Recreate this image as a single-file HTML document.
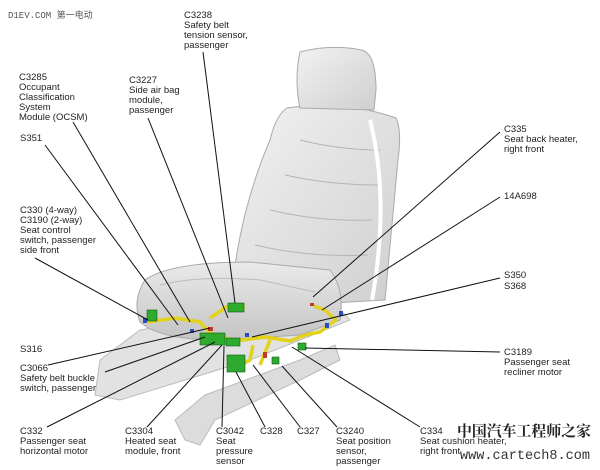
<!DOCTYPE html>
<html><head><meta charset="utf-8"><style>
html,body{margin:0;padding:0;background:#fff;width:600px;height:470px;overflow:hidden}
svg{display:block}
text{font-family:"Liberation Sans",Arial,sans-serif;font-size:9.5px;fill:#222}
</style></head><body>
<svg width="600" height="470" viewBox="0 0 600 470" xmlns="http://www.w3.org/2000/svg">
<defs>
<linearGradient id="g1" x1="0" y1="0" x2="1" y2="1"><stop offset="0" stop-color="#f2f2f2"/><stop offset="1" stop-color="#cfcfcf"/></linearGradient>
<linearGradient id="g2" x1="0" y1="0" x2="0" y2="1"><stop offset="0" stop-color="#eaeaea"/><stop offset="1" stop-color="#c4c4c4"/></linearGradient>
</defs>
<path d="M175,420 L205,395 L300,360 L335,345 L340,360 L300,380 L215,420 L200,445 L185,440 Z" fill="#dcdcdc" stroke="#bbb"/>
<path d="M100,360 L140,330 L330,300 L350,320 L250,360 L120,400 L95,395 Z" fill="#e2e2e2" stroke="#bbb"/>
<path d="M287,108 Q345,100 396,118 Q402,130 398,160 L385,300 L300,305 L232,290 Q240,210 270,140 Q276,115 287,108 Z" fill="url(#g1)" stroke="#aaa"/>
<path d="M300,140 Q340,150 380,150 M285,175 Q330,185 378,185 M270,210 Q320,222 372,220 M255,245 Q310,258 368,255" fill="none" stroke="#b5b5b5"/>
<path d="M370,120 Q390,200 372,300" fill="none" stroke="#fff" stroke-width="4"/>
<path d="M300,52 Q330,44 362,50 Q376,54 376,90 L374,110 L300,108 Q294,80 300,52 Z" fill="url(#g1)" stroke="#aaa"/>
<path d="M145,280 Q170,262 250,262 L330,270 Q345,290 340,320 L300,335 L220,340 Q160,340 140,322 Q132,300 145,280 Z" fill="url(#g2)" stroke="#aaa"/>
<path d="M160,285 Q200,275 260,280 L315,292" fill="none" stroke="#bbb"/>
<path d="M148,322 L175,318 L200,322 L210,333 L235,341 L265,337 L290,341 L305,335 L320,332 L336,320 L325,310 L314,306 M210,318 L228,306 L245,307 M253,345 L250,360 L235,368 M270,340 L260,365" fill="none" stroke="#e3d21c" stroke-width="3.5" stroke-linejoin="round"/>
<g fill="#2eaa2e" stroke="#145c14" stroke-width="0.6">
<rect x="147" y="310" width="10" height="11"/><rect x="200" y="333" width="25" height="12"/><rect x="226" y="338" width="14" height="8"/>
<rect x="227" y="355" width="18" height="17"/><rect x="272" y="357" width="7" height="7"/><rect x="298" y="343" width="8" height="7"/>
<rect x="228" y="303" width="16" height="9"/>
</g>
<g fill="#2a4ec0"><rect x="143" y="318" width="4" height="5"/><rect x="190" y="329" width="4" height="4"/><rect x="325" y="323" width="4" height="5"/><rect x="339" y="311" width="4" height="5"/><rect x="245" y="333" width="4" height="4"/></g>
<g fill="#c0392b"><rect x="208" y="327" width="5" height="4"/><rect x="263" y="352" width="4" height="6"/><rect x="310" y="303" width="4" height="3"/></g>
<g stroke="#111" stroke-width="1" fill="none">
<line x1="203" y1="52" x2="235" y2="303"/>
<line x1="73" y1="122" x2="190" y2="322"/>
<line x1="148" y1="118" x2="228" y2="318"/>
<line x1="45" y1="145" x2="178" y2="325"/>
<line x1="35" y1="258" x2="148" y2="320"/>
<line x1="48" y1="365" x2="210" y2="328"/>
<line x1="105" y1="372" x2="205" y2="337"/>
<line x1="47" y1="427" x2="215" y2="342"/>
<line x1="147" y1="427" x2="222" y2="345"/>
<line x1="222" y1="427" x2="224" y2="346"/>
<line x1="265" y1="427" x2="236" y2="372"/>
<line x1="300" y1="427" x2="253" y2="365"/>
<line x1="337" y1="427" x2="282" y2="366"/>
<line x1="420" y1="427" x2="292" y2="347"/>
<line x1="500" y1="352" x2="305" y2="348"/>
<line x1="500" y1="278" x2="252" y2="337"/>
<line x1="500" y1="197" x2="322" y2="310"/>
<line x1="500" y1="132" x2="313" y2="297"/>
</g>
<text x="8" y="18" style="font-family:'Liberation Mono','Noto Sans CJK SC',monospace;font-size:9px;fill:#555">D1EV.COM 第一电动</text>
<text x="184" y="18">C3238</text><text x="184" y="28">Safety belt</text><text x="184" y="38">tension sensor,</text><text x="184" y="48">passenger</text>
<text x="19" y="80">C3285</text><text x="19" y="90">Occupant</text><text x="19" y="100">Classification</text><text x="19" y="110">System</text><text x="19" y="120">Module (OCSM)</text>
<text x="129" y="83">C3227</text><text x="129" y="93">Side air bag</text><text x="129" y="103">module,</text><text x="129" y="113">passenger</text>
<text x="20" y="141">S351</text>
<text x="20" y="213">C330  (4-way)</text><text x="20" y="223">C3190  (2-way)</text><text x="20" y="233">Seat control</text><text x="20" y="243">switch, passenger</text><text x="20" y="253">side front</text>
<text x="20" y="352">S316</text>
<text x="20" y="371">C3066</text><text x="20" y="381">Safety belt buckle</text><text x="20" y="391">switch, passenger</text>
<text x="20" y="434">C332</text><text x="20" y="444">Passenger seat</text><text x="20" y="454">horizontal motor</text>
<text x="125" y="434">C3304</text><text x="125" y="444">Heated seat</text><text x="125" y="454">module, front</text>
<text x="216" y="434">C3042</text><text x="216" y="444">Seat</text><text x="216" y="454">pressure</text><text x="216" y="464">sensor</text>
<text x="260" y="434">C328</text><text x="297" y="434">C327</text>
<text x="336" y="434">C3240</text><text x="336" y="444">Seat position</text><text x="336" y="454">sensor,</text><text x="336" y="464">passenger</text>
<text x="420" y="434">C334</text><text x="420" y="444">Seat cushion heater,</text><text x="420" y="454">right front</text>
<text x="504" y="132">C335</text><text x="504" y="142">Seat back heater,</text><text x="504" y="152">right front</text>
<text x="504" y="199">14A698</text>
<text x="504" y="278">S350</text><text x="504" y="289">S368</text>
<text x="504" y="355">C3189</text><text x="504" y="365">Passenger seat</text><text x="504" y="375">recliner motor</text>
<text x="457" y="436" textLength="134" lengthAdjust="spacingAndGlyphs" style="font-family:'Noto Serif CJK SC','Noto Sans CJK SC',serif;font-size:15px;font-weight:bold;fill:#222">中国汽车工程师之家</text>
<text x="460" y="459" textLength="130" lengthAdjust="spacingAndGlyphs" style="font-family:'Liberation Mono',monospace;font-size:14px;fill:#333">www.cartech8.com</text>
</svg>
</body></html>
